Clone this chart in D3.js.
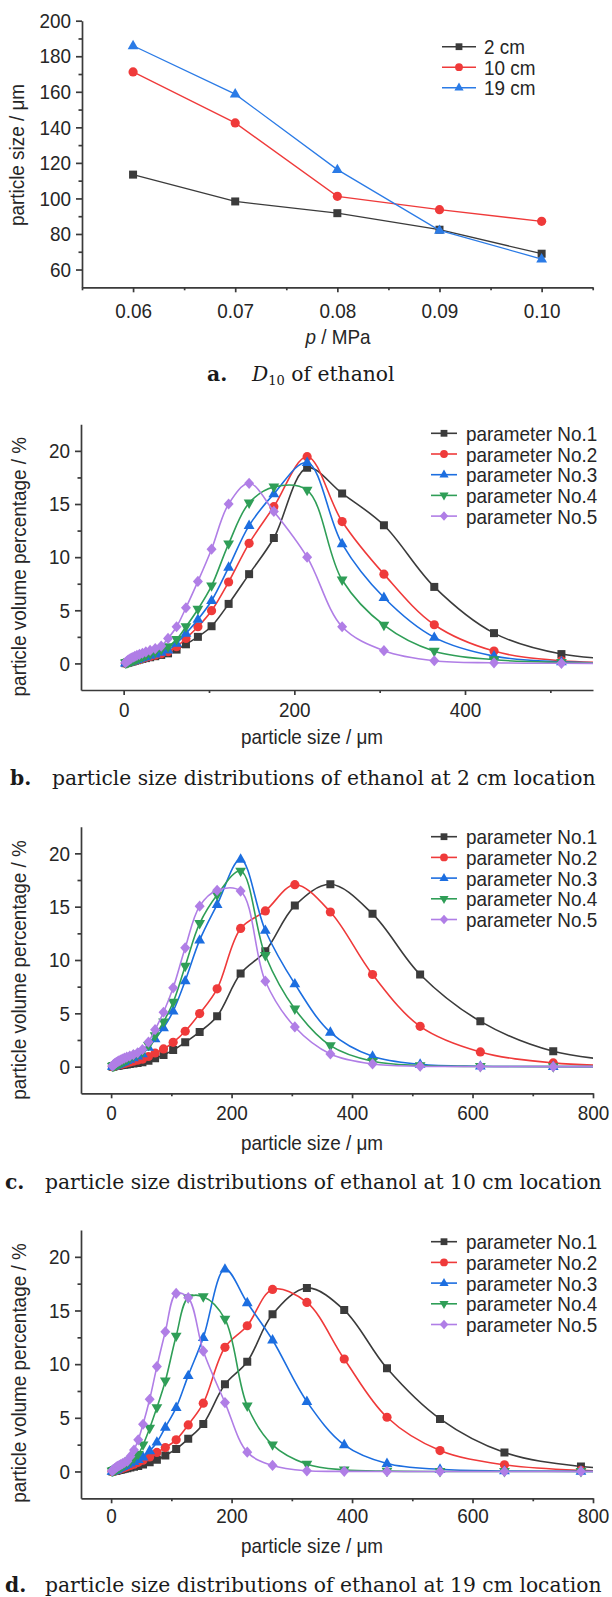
<!DOCTYPE html>
<html>
<head>
<meta charset="utf-8">
<script src="https://cdn.jsdelivr.net/npm/d3@7"></script>
<style>
  body { margin: 0; background: #fff; }
  svg { display: block; }
</style>
</head>
<body>
<svg id="chart" width="612" height="1597"></svg>
<script>
// ---------- data: D10 vs pressure ----------
const pressures = [0.06, 0.07, 0.08, 0.09, 0.10]
const locationLabels = ['2 cm', '10 cm', '19 cm']
const d10At2cm = [113.4, 98.3, 91.7, 82.4, 68.9]
const d10At10cm = [171.2, 142.5, 101.2, 93.7, 87.1]
const d10At19cm = [185.9, 158.7, 116.2, 82.0, 65.9]

// ---------- data: size distributions ----------
const paramLabels = ['parameter No.1', 'parameter No.2', 'parameter No.3', 'parameter No.4', 'parameter No.5']

// size classes (µm) read for the 2 cm and 10 cm panels
const sizeBins = [2, 3, 4, 5, 6, 7.5, 9, 11, 13, 15.5, 18.5, 22, 26, 31, 37, 44,
  52, 62, 73, 87, 103, 123, 147, 176, 215, 256, 305, 364, 434, 513, 613, 734, 870]
// size classes (µm) read for the 19 cm panel
const sizeBins19 = [1.5, 2.5, 3.5, 4.5, 5.5, 6.5, 8, 9.5, 11, 13.5, 16, 19, 22.5, 27, 32, 38, 45,
  53, 64, 76, 90, 108, 128, 153, 189, 226, 268, 325, 387, 458, 546, 653, 780, 930]

// 2 cm location
const pv2cmNo1 = [0.02, 0.04, 0.06, 0.08, 0.1, 0.13, 0.16, 0.2, 0.25, 0.3, 0.36, 0.43, 0.5, 0.58, 0.68, 0.8,
  0.95, 1.3, 1.8, 2.5, 3.5, 5.6, 8.4, 11.8, 18.4, 16.0, 13.0, 7.2, 2.85, 0.88, 0.3, 0.1, 0.03]
const pv2cmNo2 = [0.02, 0.04, 0.06, 0.08, 0.1, 0.13, 0.17, 0.21, 0.26, 0.32, 0.39, 0.47, 0.56, 0.66, 0.78, 0.92,
  1.1, 1.57, 2.35, 3.45, 4.96, 7.66, 11.3, 14.75, 19.45, 13.35, 8.4, 3.64, 1.16, 0.25, 0.07, 0.02, 0]
const pv2cmNo3 = [0.03, 0.05, 0.07, 0.09, 0.12, 0.15, 0.19, 0.24, 0.29, 0.36, 0.44, 0.53, 0.63, 0.75, 0.88, 1.05,
  1.25, 1.9, 2.83, 4.14, 5.9, 9.04, 12.97, 15.95, 18.9, 11.25, 6.2, 2.45, 0.69, 0.15, 0.04, 0.01, 0]
const pv2cmNo4 = [0.04, 0.06, 0.08, 0.11, 0.14, 0.18, 0.23, 0.28, 0.34, 0.42, 0.51, 0.62, 0.75, 0.9, 1.08, 1.3,
  1.57, 2.26, 3.45, 5.1, 7.3, 11.25, 15.1, 16.6, 16.3, 7.85, 3.6, 1.15, 0.35, 0.1, 0.03, 0.01, 0]
const pv2cmNo5 = [0.08, 0.16, 0.22, 0.28, 0.34, 0.42, 0.5, 0.58, 0.66, 0.75, 0.85, 0.96, 1.08, 1.22, 1.4, 1.63,
  2.35, 3.45, 5.24, 7.72, 10.75, 15.0, 16.95, 14.3, 10.0, 3.45, 1.2, 0.25, 0.06, 0.01, 0, 0, 0]

// 10 cm location
const pv10cmNo1 = [0.01, 0.02, 0.03, 0.04, 0.05, 0.06, 0.07, 0.09, 0.11, 0.13, 0.15, 0.18, 0.21, 0.25, 0.29, 0.34,
  0.4, 0.55, 0.78, 1.1, 1.55, 2.28, 3.26, 4.73, 8.73, 10.83, 15.1, 17.1, 14.33, 8.64, 4.25, 1.44, 0.4]
const pv10cmNo2 = [0.01, 0.02, 0.04, 0.05, 0.07, 0.09, 0.11, 0.14, 0.17, 0.21, 0.25, 0.3, 0.36, 0.43, 0.51, 0.6,
  0.7, 0.95, 1.28, 1.66, 2.28, 3.32, 4.98, 7.3, 12.96, 14.6, 17.06, 14.5, 8.64, 3.78, 1.38, 0.35, 0.08]
const pv10cmNo3 = [0.02, 0.04, 0.06, 0.08, 0.1, 0.13, 0.16, 0.2, 0.25, 0.31, 0.38, 0.46, 0.56, 0.68, 0.82, 1.0,
  1.2, 1.8, 2.6, 3.63, 5.2, 8.04, 11.86, 15.2, 19.44, 12.77, 7.76, 3.22, 0.97, 0.22, 0.04, 0.01, 0]
const pv10cmNo4 = [0.03, 0.05, 0.07, 0.09, 0.12, 0.15, 0.19, 0.24, 0.3, 0.37, 0.45, 0.55, 0.67, 0.82, 1.0, 1.18,
  1.4, 2.0, 2.9, 4.2, 6.04, 9.42, 13.43, 16.1, 18.34, 10.42, 5.41, 1.97, 0.5, 0.1, 0.02, 0, 0]
const pv10cmNo5 = [0.06, 0.12, 0.18, 0.23, 0.28, 0.34, 0.4, 0.47, 0.54, 0.62, 0.7, 0.79, 0.89, 1.0, 1.13, 1.3,
  1.6, 2.3, 3.47, 5.1, 7.39, 11.14, 15.05, 16.53, 16.46, 8.01, 3.72, 1.19, 0.25, 0.04, 0.01, 0, 0]

// 19 cm location
const pv19cmNo1 = [0.01, 0.02, 0.03, 0.04, 0.05, 0.06, 0.07, 0.09, 0.11, 0.14, 0.17, 0.21, 0.26, 0.31, 0.37, 0.43, 0.5,
  0.65, 0.87, 1.09, 1.49, 2.1, 3.04, 4.43, 8.12, 10.23, 14.64, 17.1, 15.04, 9.61, 4.9, 1.77, 0.47, 0.1]
const pv19cmNo2 = [0.01, 0.02, 0.03, 0.05, 0.06, 0.08, 0.1, 0.13, 0.16, 0.2, 0.25, 0.31, 0.38, 0.46, 0.56, 0.68, 0.85,
  1.05, 1.35, 1.77, 2.23, 2.95, 4.34, 6.36, 11.57, 13.58, 16.96, 15.75, 10.48, 5.05, 1.95, 0.62, 0.1, 0.02]
const pv19cmNo3 = [0.02, 0.04, 0.06, 0.08, 0.1, 0.13, 0.16, 0.2, 0.25, 0.31, 0.38, 0.46, 0.55, 0.66, 0.78, 0.92, 1.1,
  1.35, 1.92, 2.73, 4.12, 5.95, 8.93, 12.47, 18.85, 15.72, 12.25, 6.51, 2.48, 0.74, 0.2, 0.05, 0.01, 0]
const pv19cmNo4 = [0.03, 0.05, 0.08, 0.1, 0.13, 0.16, 0.2, 0.25, 0.3, 0.37, 0.45, 0.55, 0.68, 0.82, 1.0, 1.25, 1.6,
  2.48, 4.03, 5.95, 8.43, 12.62, 16.19, 16.28, 14.2, 6.1, 2.48, 0.68, 0.15, 0.03, 0, 0, 0, 0]
const pv19cmNo5 = [0.05, 0.1, 0.15, 0.2, 0.25, 0.3, 0.36, 0.42, 0.48, 0.56, 0.64, 0.74, 0.84, 0.95, 1.4, 2.0, 2.95,
  4.4, 6.73, 9.77, 13.02, 16.59, 16.19, 11.22, 6.42, 1.8, 0.56, 0.06, 0.01, 0, 0, 0, 0, 0]

// ---------- styles ----------
const AXIS_FONT = '"Liberation Sans", Arial, sans-serif'
const SERIF_FONT = '"DejaVu Serif", "Liberation Serif", serif'
const AXIS_COLOR = '#3a3a3a'
const TEXT_COLOR = '#262626'
const COLORS = ['#3b3b3b', '#ef3a3a', '#1c6ee0', '#2f9e57', '#b07ee6']
const SHAPES = ['square', 'circle', 'triangle', 'triangleDown', 'diamond']
// the figure's sans face is a condensed one
const NARROW = 0.9

const svg = d3.select('#chart')

/**
 * marker outline centred on 0,0
 */
const markerPath = (shape) => {
  switch (shape) {
    case 'square': return 'M-4,-4H4V4H-4Z'
    case 'circle': return 'M4.6,0A4.6,4.6 0 1,1 -4.6,0A4.6,4.6 0 1,1 4.6,0Z'
    case 'triangle': return 'M0,-6L5.4,3.4L-5.4,3.4Z'
    case 'triangleDown': return 'M0,6L5.4,-3.4L-5.4,-3.4Z'
    case 'diamond': return 'M0,-5.6L5,0L0,5.6L-5,0Z'
  }
}

/**
 * condensed sans text placed with a transform
 */
const sansText = (g, x, y, extra = '') => g.append('text')
  .attr('transform', `translate(${x},${y}) ${extra} scale(${NARROW},1)`)
  .attr('fill', TEXT_COLOR)
  .style('font-family', AXIS_FONT)
  .style('font-size', '21px')

/**
 * axes with major (labelled) and minor ticks
 */
const drawAxes = (g, x, y, p) => {
  g.append('g')
    .attr('transform', `translate(${p.left},0)`)
    .call(d3.axisLeft(y).tickValues(p.yMajor).tickSize(6).tickSizeOuter(0)
      .tickPadding(5).tickFormat(p.yFormat))
  g.append('g')
    .attr('transform', `translate(${p.left},0)`)
    .call(d3.axisLeft(y).tickValues(p.yMinor).tickSize(3.5).tickFormat(''))
    .select('.domain').remove()

  g.append('g')
    .attr('transform', `translate(0,${p.bottom})`)
    .call(d3.axisBottom(x).tickValues(p.xMajor).tickSize(5).tickSizeOuter(0)
      .tickPadding(p.xPad).tickFormat(p.xFormat))
  g.append('g')
    .attr('transform', `translate(0,${p.bottom})`)
    .call(d3.axisBottom(x).tickValues(p.xMinor).tickSize(3).tickFormat(''))
    .select('.domain').remove()

  g.selectAll('.domain, .tick line')
    .attr('stroke', AXIS_COLOR)
    .attr('stroke-width', 1.7)
  g.selectAll('.tick text')
    .attr('fill', TEXT_COLOR)
    .style('font-family', AXIS_FONT)
    .style('font-size', '21px')
    .each(function () {
      // squeeze each label round its own anchor
      const t = d3.select(this)
      const tx = +t.attr('x') || 0
      t.attr('x', tx / NARROW).attr('transform', `scale(${NARROW},1)`)
    })

  // axis titles
  const xt = sansText(g, p.xTitleX, p.xTitleY).attr('text-anchor', 'middle')
  p.xTitle.forEach(part => {
    xt.append('tspan').attr('font-style', part.italic ? 'italic' : null).text(part.text)
  })

  sansText(g, p.yTitleX, p.yTitleY, 'rotate(-90)')
    .attr('text-anchor', 'middle')
    .text(p.yTitle)
}

/**
 * legend: short line + marker + label
 */
const drawLegend = (g, p, labels, colors) => {
  labels.forEach((label, i) => {
    const ly = p.legendTop + i * p.legendStep
    g.append('line')
      .attr('x1', p.legendX1).attr('x2', p.legendX2)
      .attr('y1', ly).attr('y2', ly)
      .attr('stroke', colors[i])
      .attr('stroke-width', 1.6)
    g.append('path')
      .attr('d', markerPath(SHAPES[i]))
      .attr('transform', `translate(${(p.legendX1 + p.legendX2) / 2},${ly}) scale(0.85)`)
      .attr('fill', colors[i])
    sansText(g, p.legendTextX, ly)
      .attr('dy', '0.36em')
      .text(label)
  })
}

/**
 * caption under a panel
 */
const drawCaption = (c) => {
  const t = svg.append('text')
    .attr('x', c.x)
    .attr('y', c.y)
    .attr('fill', '#1a1a1a')
    .style('font-family', SERIF_FONT)
    .style('font-size', '20.3px')
  t.append('tspan').attr('font-weight', 'bold').text(c.tag)
  c.parts.forEach((part, i) => {
    const s = t.append('tspan')
    if (i === 0) s.attr('x', c.textX)
    if (part.italic) s.attr('font-style', 'italic')
    if (part.sub) s.attr('font-size', '13px').attr('dy', 4)
    if (part.after) s.attr('dy', -4)
    s.text(part.text)
  })
}

// ---------- panel a: D10 of ethanol ----------
const drawD10Panel = () => {
  const p = {
    left: 82, right: 592.7, top: 20.7, bottom: 287.3,
    yMajor: d3.range(60, 201, 20), yMinor: d3.range(70, 200, 20),
    xMajor: pressures, xMinor: [0.055, 0.065, 0.075, 0.085, 0.095, 0.105],
    yFormat: d3.format('d'), xFormat: d3.format('.2f'), xPad: 11,
    xTitle: [{ text: 'p', italic: true }, { text: ' / MPa' }],
    xTitleX: 338, xTitleY: 344,
    yTitle: 'particle size / μm', yTitleX: 24, yTitleY: 155,
    legendTop: 46.7, legendStep: 20.5, legendX1: 442, legendX2: 476, legendTextX: 484
  }
  const g = svg.append('g').attr('id', 'panel-a')
  const x = d3.scaleLinear().domain([0.055, 0.105]).range([p.left, p.right])
  const y = d3.scaleLinear().domain([50, 200]).range([p.bottom, p.top])

  drawAxes(g, x, y, p)

  const colors = [COLORS[0], COLORS[1], '#2b7be6']
  const line = d3.line().x((d, i) => x(pressures[i])).y(d => y(d))
  ;[d10At2cm, d10At10cm, d10At19cm].forEach((values, k) => {
    g.append('path')
      .attr('d', line(values))
      .attr('fill', 'none')
      .attr('stroke', colors[k])
      .attr('stroke-width', 1.3)
    g.selectAll(null)
      .data(values)
      .join('path')
      .attr('d', markerPath(SHAPES[k]))
      .attr('transform', (d, i) => `translate(${x(pressures[i])},${y(d)})`)
      .attr('fill', colors[k])
  })

  drawLegend(g, p, locationLabels, colors)
}

// ---------- panels b, c, d: distributions ----------
const distPanels = [
  {
    id: 'b', top: 424.3, bottom: 690, xDomain: [-50, 550], xMajor: [0, 200, 400], xMinor: [100, 300, 500],
    xPad: 7, xTitleY: 744, yTitleY: 566.7, legendTop: 433.3, bins: sizeBins,
    series: [pv2cmNo1, pv2cmNo2, pv2cmNo3, pv2cmNo4, pv2cmNo5],
    caption: { tag: 'b.', y: 785, text: 'particle size distributions of ethanol at 2 cm location', x: 10, textX: 52 }
  },
  {
    id: 'c', top: 826.7, bottom: 1093.3, xDomain: [-50, 800], xMajor: [0, 200, 400, 600, 800], xMinor: [100, 300, 500, 700],
    xPad: 7, xTitleY: 1150, yTitleY: 970, legendTop: 836.7, bins: sizeBins,
    series: [pv10cmNo1, pv10cmNo2, pv10cmNo3, pv10cmNo4, pv10cmNo5],
    caption: { tag: 'c.', y: 1189, text: 'particle size distributions of ethanol at 10 cm location', x: 5, textX: 45 }
  },
  {
    id: 'd', top: 1230, bottom: 1498.3, xDomain: [-50, 800], xMajor: [0, 200, 400, 600, 800], xMinor: [100, 300, 500, 700],
    xPad: 5, xTitleY: 1553, yTitleY: 1373, legendTop: 1241.7, bins: sizeBins19,
    series: [pv19cmNo1, pv19cmNo2, pv19cmNo3, pv19cmNo4, pv19cmNo5],
    caption: { tag: 'd.', y: 1592, text: 'particle size distributions of ethanol at 19 cm location', x: 5, textX: 45 }
  }
]

const drawDistPanel = (cfg) => {
  const p = {
    ...cfg,
    left: 81, right: 593,
    yMajor: [0, 5, 10, 15, 20], yMinor: [2.5, 7.5, 12.5, 17.5],
    yFormat: d3.format('d'), xFormat: d3.format('d'),
    xTitle: [{ text: 'particle size / μm' }], xTitleX: 312,
    yTitle: 'particle volume percentage / %', yTitleX: 26,
    legendStep: 20.7, legendX1: 431, legendX2: 457, legendTextX: 466
  }
  const g = svg.append('g').attr('id', 'panel-' + p.id)
  const x = d3.scaleLinear().domain(p.xDomain).range([p.left, p.right])
  const y = d3.scaleLinear().domain([-2.5, 22.5]).range([p.bottom, p.top])

  const clipId = 'clip-' + p.id
  svg.append('clipPath').attr('id', clipId)
    .append('rect')
    .attr('x', p.left).attr('y', p.top - 12)
    .attr('width', p.right - p.left).attr('height', p.bottom - p.top + 12)

  drawAxes(g, x, y, p)

  const plot = g.append('g').attr('clip-path', `url(#${clipId})`)
  const line = d3.line()
    .x((d, i) => x(p.bins[i]))
    .y(d => y(d))
    .curve(d3.curveCatmullRom.alpha(0.5))

  p.series.forEach((values, k) => {
    plot.append('path')
      .attr('d', line(values))
      .attr('fill', 'none')
      .attr('stroke', COLORS[k])
      .attr('stroke-width', 1.6)
    plot.selectAll(null)
      .data(values)
      .join('path')
      .attr('d', markerPath(SHAPES[k]))
      .attr('transform', (d, i) => `translate(${x(p.bins[i])},${y(d)})`)
      .attr('fill', COLORS[k])
  })

  drawLegend(g, p, paramLabels, COLORS)

  drawCaption({
    tag: p.caption.tag, x: p.caption.x, y: p.caption.y, textX: p.caption.textX,
    parts: [{ text: p.caption.text }]
  })
}

drawD10Panel()
drawCaption({
  tag: 'a.', x: 207, y: 380.5, textX: 252,
  parts: [{ text: 'D', italic: true }, { text: '10', sub: true }, { text: ' of ethanol', after: true }]
})
distPanels.forEach(drawDistPanel)
</script>
</body>
</html>
